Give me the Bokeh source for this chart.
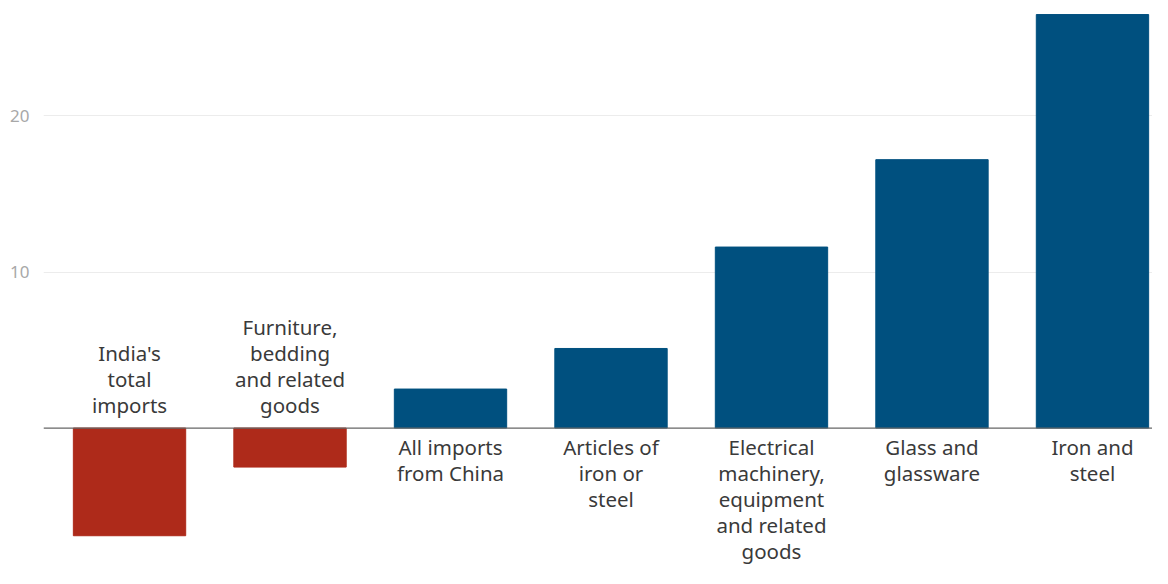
from bokeh.plotting import figure
from bokeh.models import ColumnDataSource, Span, FixedTicker
from bokeh.core.properties import value
from bokeh.embed import file_html
from bokeh.resources import INLINE

categories = ["India's\ntotal\nimports", "Furniture,\nbedding\nand related\ngoods",
              "All imports\nfrom China", "Articles of\niron or\nsteel",
              "Electrical\nmachinery,\nequipment\nand related\ngoods",
              "Glass and\nglassware", "Iron and\nsteel"]
values = [-6.9, -2.5, 2.5, 5.1, 11.6, 17.2, 26.5]
tick_values = [10, 20]

xs = list(range(len(categories)))
colors = ["#ae2a1a" if v < 0 else "#00507f" for v in values]

src = ColumnDataSource(dict(x=xs, top=values, color=colors, label=categories))

p = figure(width=1152, height=568, output_backend="svg", toolbar_location=None,
           x_range=(-0.536, 6.374), y_range=(-9.0, 27.4),
           min_border_left=43, min_border_right=0, min_border_top=0, min_border_bottom=0)
p.outline_line_color = None
p.background_fill_color = "white"
p.border_fill_color = "white"

p.vbar(x="x", top="top", bottom=0, width=0.7, color="color", source=src)

pos_src = ColumnDataSource(dict(x=[x for x, v in zip(xs, values) if v >= 0],
                                label=[c for c, v in zip(categories, values) if v >= 0]))
neg_src = ColumnDataSource(dict(x=[x for x, v in zip(xs, values) if v < 0],
                                label=[c for c, v in zip(categories, values) if v < 0]))

common = dict(text="label", text_align="center", text_font=value("Noto Sans"),
              text_font_size="20.5px", text_color="#3a3a3a", text_line_height=0.93)
p.text(x="x", y=0, source=pos_src, text_baseline="top", y_offset=5, **common)
p.text(x="x", y=0, source=neg_src, text_baseline="bottom", y_offset=-9, **common)

p.add_layout(Span(location=0, dimension="width", line_color="#666666", line_width=1.2))

p.xaxis.visible = False
p.xgrid.visible = False
p.yaxis.ticker = FixedTicker(ticks=tick_values)
p.yaxis.axis_line_color = None
p.yaxis.major_tick_line_color = None
p.yaxis.minor_tick_line_color = None
p.yaxis.major_label_text_color = "#a8a8a8"
p.yaxis.major_label_text_font = "Noto Sans"
p.yaxis.major_label_text_font_size = "17px"
p.yaxis.major_label_standoff = 8
p.ygrid.ticker = FixedTicker(ticks=tick_values)
p.ygrid.grid_line_color = "#ececec"

open("out.html", "w").write(file_html(p, INLINE))
